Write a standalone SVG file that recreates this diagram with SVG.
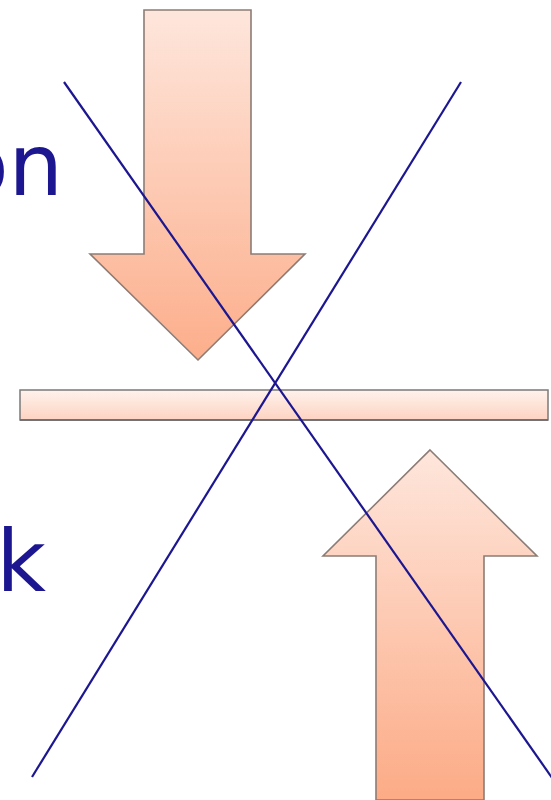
<svg xmlns="http://www.w3.org/2000/svg" width="551" height="800" viewBox="0 0 551 800">
<style>
.lbl{font-family:"DejaVu Sans",Verdana,sans-serif;font-size:86px;fill:#1c1790}
.arrow{stroke:#8c7c76;stroke-width:1.6;stroke-linejoin:miter}
.cross{stroke:#1c1790;stroke-width:2.2;fill:none}
</style>
<defs>
<linearGradient id="gDown" x1="0" y1="0" x2="0" y2="1">
<stop offset="0" stop-color="#fee6dc"/>
<stop offset="1" stop-color="#fcae8b"/>
</linearGradient>
<linearGradient id="gUp" x1="0" y1="0" x2="0" y2="1">
<stop offset="0" stop-color="#fee6dc"/>
<stop offset="1" stop-color="#fcab86"/>
</linearGradient>
<linearGradient id="gBar" x1="0" y1="0" x2="0" y2="1">
<stop offset="0" stop-color="#fff2ec"/>
<stop offset="1" stop-color="#fdd3c2"/>
</linearGradient>
</defs>
<g id="label-top"><text class="lbl" x="63" y="195" text-anchor="end">on</text></g>
<g id="label-bottom"><text class="lbl" x="46" y="591" text-anchor="end">k</text></g>
<g id="arrow-down">
<path class="arrow" fill="url(#gDown)" d="M144,10 H251 V254 H305 L198,360 L90,254 H144 Z"/>
</g>
<g id="bar">
<rect x="20" y="390" width="528" height="30" fill="url(#gBar)" stroke="#7a7a7a" stroke-width="1.5"/>
<line x1="20" y1="420" x2="548" y2="420" stroke="#666" stroke-width="1.5"/>
</g>
<g id="arrow-up">
<path class="arrow" fill="url(#gUp)" d="M430,450 L537,556 H484 V800 H376 V556 H323 Z"/>
</g>
<g id="connectors">
<line class="cross" x1="64" y1="82" x2="562" y2="792"/>
<line class="cross" x1="461" y1="82" x2="32" y2="777"/>
</g>
</svg>
